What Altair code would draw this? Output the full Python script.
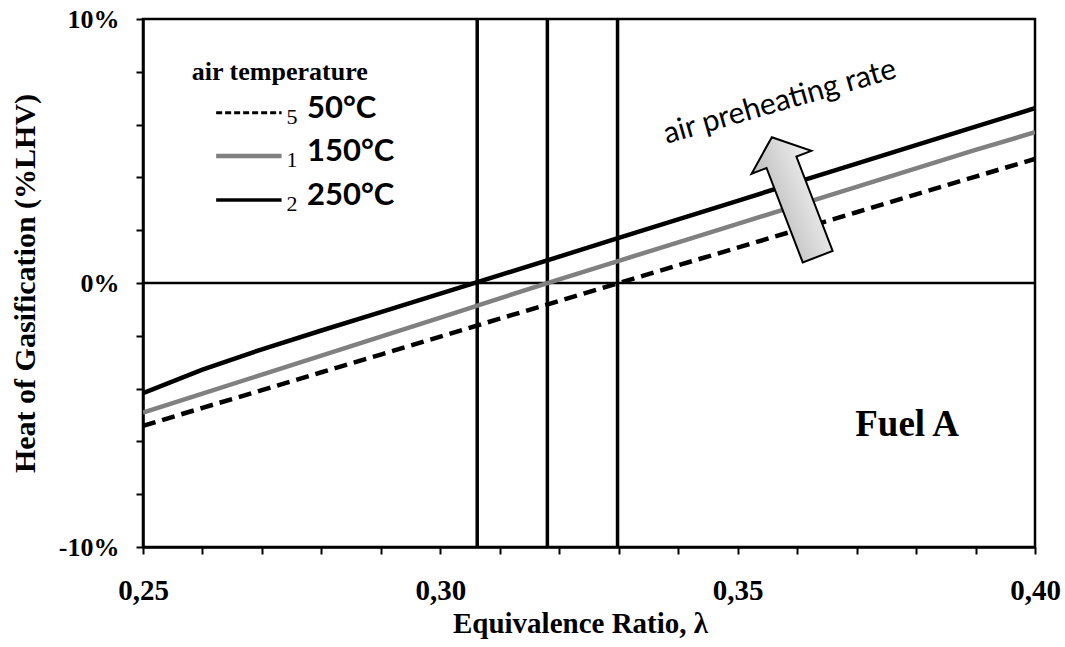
import altair as alt
import pandas as pd

# ---- data ----
lam = [0.25, 0.26, 0.27, 0.28, 0.29, 0.30, 0.31, 0.32,
       0.33, 0.34, 0.35, 0.36, 0.37, 0.38, 0.39, 0.40]
t50 = [-5.41, -4.73, -4.06, -3.38, -2.71, -2.03, -1.35, -0.68,
       0.00, 0.67, 1.34, 2.01, 2.68, 3.36, 4.03, 4.70]
t150 = [-4.91, -4.19, -3.47, -2.75, -2.03, -1.31, -0.58, 0.14,
        0.84, 1.54, 2.24, 2.94, 3.64, 4.34, 5.04, 5.71]
t250 = [-4.17, -3.28, -2.51, -1.80, -1.10, -0.40, 0.30, 1.00,
        1.71, 2.41, 3.11, 3.82, 4.52, 5.22, 5.92, 6.62]
series = ["50°C", "150°C", "250°C"]
zero_cross = [0.3298, 0.318, 0.3062]

x_ticks = [round(0.25 + 0.01 * i, 2) for i in range(16)]
y_ticks = list(range(-10, 11))

SERIF = "Liberation Serif"
SANS = "Lato"

rows = []
for name, vals in zip(series, [t50, t150, t250]):
    for l, v in zip(lam, vals):
        rows.append({"lam": l, "val": v, "series": name})
df = pd.DataFrame(rows)

xscale = alt.Scale(domain=[0.25, 0.40], nice=False, zero=False)
yscale = alt.Scale(domain=[-10, 10], nice=False, zero=False)

xaxis = alt.Axis(
    values=x_ticks, grid=False, title="Equivalence Ratio, λ",
    labelExpr="abs(round(datum.value*100)) % 5 == 0 ? replace(format(datum.value, '.2f'), '.', ',') : ''",
    labelFont=SERIF, labelFontWeight="bold", labelFontSize=29, labelColor="black",
    labelPadding=22, labelFlush=False, labelOverlap=False,
    tickSize=7, tickColor="black", tickWidth=2,
    domainColor="black", domainWidth=2.5,
    titleFont=SERIF, titleFontWeight="bold", titleFontSize=29, titleColor="black",
    titleX=437, titleY=76, titleBaseline="middle", titleAlign="center",
)
yaxis = alt.Axis(
    values=y_ticks, grid=False, title="Heat of Gasification (%LHV)",
    labelExpr="datum.value % 5 == 0 ? datum.value + '%' : ''",
    labelFont=SERIF, labelFontWeight="bold", labelFontSize=26, labelColor="black",
    labelPadding=17, labelOverlap=False, labelFlush=False,
    tickSize=7, tickColor="black", tickWidth=2,
    domainColor="black", domainWidth=2.5,
    titleFont=SERIF, titleFontWeight="bold", titleFontSize=30, titleColor="black",
    titleX=-118, titleY=264, titleAngle=270, titleBaseline="middle", titleAlign="center",
)

base = alt.Chart(df)

def series_line(name, color, dash=None):
    kw = dict(color=color, strokeWidth=4.5, clip=True)
    if dash:
        kw["strokeDash"] = dash
    return base.transform_filter(alt.datum.series == name).mark_line(**kw).encode(
        x=alt.X("lam:Q", scale=xscale, axis=xaxis),
        y=alt.Y("val:Q", scale=yscale, axis=yaxis),
    )

l50 = series_line("50°C", "black", [13, 7])
l150 = series_line("150°C", "#808080")
l250 = series_line("250°C", "black")

# zero line and vertical crossing lines
zero_df = pd.DataFrame({"v": [0]})
hline = alt.Chart(zero_df).mark_rule(color="black", strokeWidth=2.5).encode(
    y=alt.Y("v:Q", scale=yscale))
vdf = pd.DataFrame({"lam": zero_cross})
vlines = alt.Chart(vdf).mark_rule(color="black", strokeWidth=3.5).encode(
    x=alt.X("lam:Q", scale=xscale))

# legend drawn inside the plot
leg_y = [6.45, 4.81, 3.14]
leg_df = pd.DataFrame({"series": series, "y": leg_y,
                       "x0": [0.2623] * 3, "x1": [0.2733] * 3,
                       "num": ["5", "1", "2"],
                       "label": ["50°C", "150°C", "250°C"]})
leg_styles = [("50°C", "black", [6, 3]), ("150°C", "#808080", None), ("250°C", "black", None)]
leg_lines = []
for name, color, dash in leg_styles:
    kw = dict(color=color, strokeWidth=3.5 if color == "black" else 4.5)
    if dash:
        kw["strokeDash"] = dash
        kw["strokeWidth"] = 3
    leg_lines.append(
        alt.Chart(leg_df).transform_filter(alt.datum.series == name).mark_rule(**kw).encode(
            x=alt.X("x0:Q", scale=xscale), x2="x1:Q",
            y=alt.Y("y:Q", scale=yscale)))

leg_num = alt.Chart(leg_df).transform_calculate(yy="datum.y - 0.15").mark_text(
    font=SERIF, fontSize=22, color="black", align="center", baseline="middle").encode(
    x=alt.value(292 - 143), y=alt.Y("yy:Q", scale=yscale), text="num:N")
leg_txt = alt.Chart(leg_df).transform_calculate(yy="datum.y + 0.15").mark_text(
    font=SANS, fontSize=31, fontWeight="bold", color="black", align="left", baseline="middle").encode(
    x=alt.value(307 - 143), y=alt.Y("yy:Q", scale=yscale), text="label:N")

ann_df = pd.DataFrame({"lam": [0.2730], "val": [7.99], "t": ["air temperature"]})
leg_title = alt.Chart(ann_df).mark_text(
    font=SERIF, fontSize=26, fontWeight="bold", color="black", align="center", baseline="middle").encode(
    x=alt.X("lam:Q", scale=xscale), y=alt.Y("val:Q", scale=yscale), text="t:N")

fuel_df = pd.DataFrame({"lam": [0.3785], "val": [-5.38], "t": ["Fuel A"]})
fuel = alt.Chart(fuel_df).mark_text(
    font=SERIF, fontSize=37, fontWeight="bold", color="black", align="center", baseline="middle").encode(
    x=alt.X("lam:Q", scale=xscale), y=alt.Y("val:Q", scale=yscale), text="t:N")

rate_df = pd.DataFrame({"lam": [0.3571], "val": [6.86], "t": ["air preheating rate"]})
rate = alt.Chart(rate_df).mark_text(
    font=SANS, fontSize=30, color="black", align="center", baseline="middle", angle=344).encode(
    x=alt.X("lam:Q", scale=xscale), y=alt.Y("val:Q", scale=yscale), text="t:N")

arrow_path = "M0,-1L0.5,-0.58L0.25,-0.58L0.25,1L-0.25,1L-0.25,-0.58L-0.5,-0.58Z"
arrow_df = pd.DataFrame({"lam": [0.3596], "val": [3.26]})
arrow = alt.Chart(arrow_df).mark_point(
    shape=arrow_path, size=128 * 128, angle=339, filled=True,
    fill=alt.LinearGradient(gradient="linear",
                            stops=[alt.GradientStop(color="#bdbdbd", offset=0),
                                   alt.GradientStop(color="#f2f2f2", offset=1)],
                            x1=0, x2=1, y1=0, y2=0),
    stroke="black", strokeWidth=2, opacity=1, fillOpacity=1, strokeOpacity=1).encode(
    x=alt.X("lam:Q", scale=xscale), y=alt.Y("val:Q", scale=yscale))

chart = alt.layer(
    hline, vlines, l50, l150, l250, *leg_lines, leg_num, leg_txt, leg_title, fuel, rate, arrow
).properties(
    width=892, height=528,
    autosize=alt.AutoSizeParams(type="none"),
    padding={"left": 143, "top": 19, "right": 30, "bottom": 100},
    background="white",
).configure_view(stroke="black", strokeWidth=2.5)

chart.save("out.html", embed_options={"renderer": "svg", "actions": False})
